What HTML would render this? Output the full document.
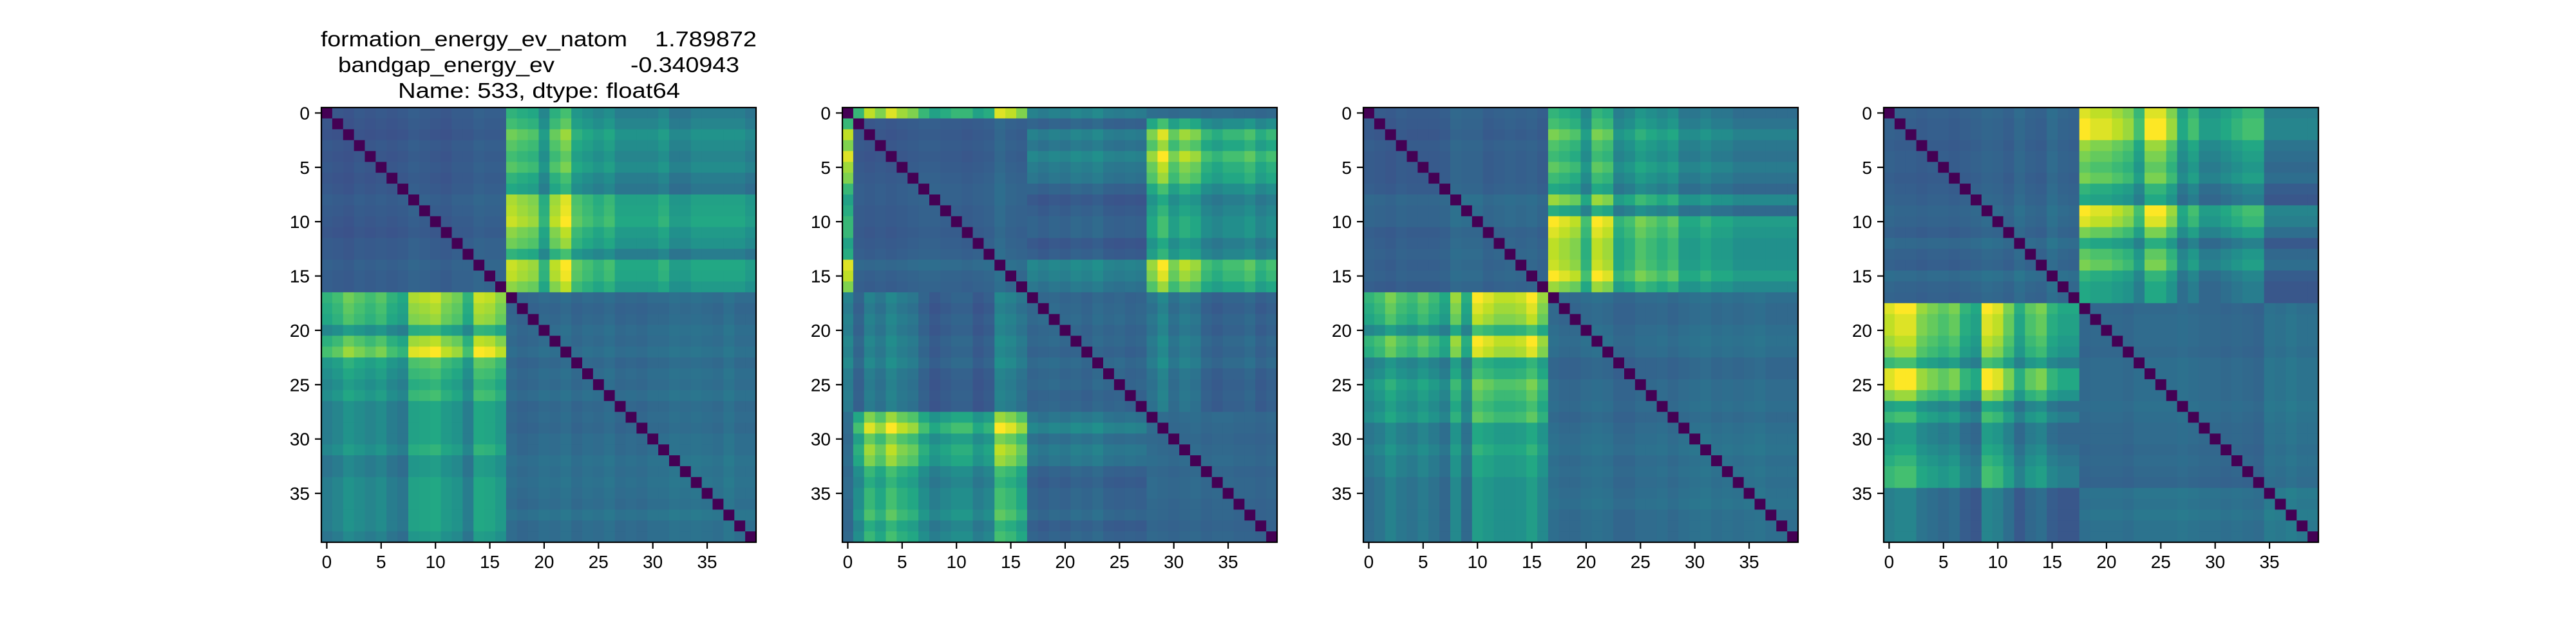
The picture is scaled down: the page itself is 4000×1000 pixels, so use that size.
<!DOCTYPE html>
<html>
<head>
<meta charset="utf-8">
<style>
  html,body{margin:0;padding:0;background:#fff;}
  svg{display:block;}
  text{font-family:"Liberation Sans","DejaVu Sans",sans-serif;fill:#000;}
</style>
</head>
<body>
<svg id="fig" width="4000" height="1000" viewBox="0 0 4000 1000" xmlns="http://www.w3.org/2000/svg">
  <rect x="0" y="0" width="4000" height="1000" fill="#fff"/>
  <g font-size="33">
    <text x="498" y="72" textLength="476" lengthAdjust="spacingAndGlyphs">formation_energy_ev_natom</text>
    <text x="1017" y="72" textLength="158" lengthAdjust="spacingAndGlyphs">1.789872</text>
    <text x="525" y="112" textLength="336" lengthAdjust="spacingAndGlyphs">bandgap_energy_ev</text>
    <text x="979" y="112" textLength="169" lengthAdjust="spacingAndGlyphs">-0.340943</text>
    <text x="618" y="152" textLength="438" lengthAdjust="spacingAndGlyphs">Name: 533, dtype: float64</text>
  </g>
</svg>
<script>
// ---- data (block-structured estimate) ----
const tickLabels = ["0","5","10","15","20","25","30","35"];
const tickValues = [0,5,10,15,20,25,30,35];

const groups1 = [0,0,0,0,0,0,0,0,0,0,0,0,0,0,0,0,0,1,1,1,1,1,1,1,1,1,1,1,1,1,1,1,1,1,1,1,1,1,1,1];
const groups2 = [0,1,1,1,1,1,1,1,1,1,1,1,1,1,1,1,1,2,2,2,2,2,2,2,2,2,2,2,0,0,0,0,0,0,0,0,0,0,0,0];
const groups3 = [0,0,0,0,0,0,0,0,0,0,0,0,0,0,0,0,0,1,1,1,1,1,1,1,1,1,1,1,1,1,1,1,1,1,1,1,1,1,1,1];
const groups4 = [0,0,0,0,0,0,0,0,0,0,0,0,0,0,0,0,0,0,1,1,1,1,1,1,1,1,1,1,1,1,1,1,1,1,1,1,1,1,1,1];

const profile1 = [0.70,0.75,0.85,0.80,0.75,0.80,0.70,0.65,0.95,0.97,1.00,0.90,0.85,0.70,1.00,0.98,0.90,
                  0.92,0.88,0.85,0.65,0.90,1.00,0.75,0.70,0.65,0.70,0.60,0.60,0.60,0.60,0.65,0.55,0.55,0.60,0.60,0.60,0.60,0.60,0.55];
const profile2 = [0.95,0.70,0.95,0.85,1.00,0.90,0.85,0.70,0.60,0.65,0.70,0.70,0.60,0.65,1.00,0.95,0.85,
                  0.75,0.70,0.75,0.72,0.78,0.75,0.80,0.72,0.70,0.72,0.70,0.85,1.00,0.80,0.90,0.85,0.70,0.65,0.70,0.70,0.75,0.65,0.70];
const profile3 = [0.65,0.70,0.80,0.72,0.68,0.75,0.68,0.60,0.85,0.62,1.00,0.95,0.90,0.90,0.92,1.00,0.85,
                  1.00,0.95,0.90,0.70,1.00,0.95,0.65,0.70,0.80,0.75,0.70,0.75,0.60,0.60,0.65,0.60,0.60,0.55,0.55,0.55,0.55,0.55,0.55];
const profile4 = [0.95,1.00,1.00,0.85,0.80,0.75,0.80,0.65,0.60,1.00,0.95,0.80,0.62,0.75,0.80,0.65,0.60,0.60,
                  1.00,0.95,0.95,0.90,0.85,0.70,1.00,1.00,0.85,0.60,0.70,0.55,0.55,0.60,0.65,0.70,0.70,0.45,0.45,0.45,0.45,0.45];

const within1 = [0.28,0.26,0.24,0.28,0.26,0.28,0.26,0.28,0.32,0.30,0.28,0.26,0.30,0.30,0.34,0.32,0.32,
                 0.34,0.30,0.32,0.36,0.34,0.38,0.32,0.36,0.34,0.38,0.32,0.34,0.32,0.36,0.36,0.40,0.38,0.40,0.38,0.36,0.42,0.36,0.36];
const within2 = [0.36,0.28,0.26,0.28,0.26,0.28,0.30,0.32,0.32,0.30,0.30,0.28,0.30,0.32,0.40,0.34,0.32,
                 0.32,0.34,0.36,0.32,0.34,0.30,0.36,0.32,0.34,0.30,0.32,0.36,0.34,0.32,0.34,0.36,0.32,0.34,0.34,0.32,0.32,0.30,0.32];
const within3 = [0.30,0.28,0.26,0.30,0.28,0.28,0.28,0.30,0.38,0.36,0.36,0.30,0.32,0.34,0.32,0.34,0.30,
                 0.36,0.32,0.32,0.36,0.38,0.36,0.30,0.30,0.34,0.34,0.36,0.32,0.36,0.38,0.40,0.36,0.38,0.36,0.38,0.40,0.36,0.36,0.36];
const within4 = [0.32,0.30,0.30,0.28,0.30,0.30,0.28,0.30,0.32,0.36,0.34,0.30,0.38,0.32,0.30,0.40,0.34,0.32,
                 0.32,0.34,0.34,0.34,0.32,0.36,0.36,0.36,0.36,0.38,0.36,0.34,0.34,0.32,0.34,0.32,0.30,0.42,0.40,0.44,0.40,0.40];

const blockFactor1 = [[0,1],[1,0]];
const blockFactor2 = [[0,1,0.62],[1,0,0.62],[0.62,0.62,0]];
const blockFactor3 = [[0,1],[1,0]];
const blockFactor4 = [[0,1],[1,0]];

const panels = [
  {groups:groups1, profile:profile1, within:within1, factor:blockFactor1},
  {groups:groups2, profile:profile2, within:within2, factor:blockFactor2},
  {groups:groups3, profile:profile3, within:within3, factor:blockFactor3},
  {groups:groups4, profile:profile4, within:within4, factor:blockFactor4}
];

// ---- layout ----
const N = 40;
const plotLefts = [499, 1308, 2117, 2925];
const plotTop = 167, plotSize = 675;
const cell = plotSize / N;

const viridis = [
  [0.0,[68,1,84]],[0.1,[72,36,117]],[0.2,[65,68,135]],[0.3,[53,95,141]],[0.4,[42,120,142]],
  [0.5,[33,145,140]],[0.6,[34,168,132]],[0.7,[68,191,112]],[0.8,[122,209,81]],[0.9,[189,223,38]],[1.0,[253,231,37]]
];
function cmap(v){
  v = Math.max(0, Math.min(1, v));
  for (let k=1;k<viridis.length;k++){
    if (v <= viridis[k][0]){
      const a=viridis[k-1], b=viridis[k], t=(v-a[0])/(b[0]-a[0]);
      const c=a[1].map((x,i)=>Math.round(x+(b[1][i]-x)*t));
      return "rgb("+c.join(",")+")";
    }
  }
  return "rgb(253,231,37)";
}
function value(p,i,j){
  if (i===j) return 0;
  const gi=p.groups[i], gj=p.groups[j];
  if (gi===gj) return (p.within[i]+p.within[j])/2;
  return p.profile[i]*p.profile[j]*p.factor[gi][gj];
}

const svg = document.getElementById("fig");
const NS = "http://www.w3.org/2000/svg";
function mk(tag, attrs){
  const e=document.createElementNS(NS,tag);
  for (const k in attrs) e.setAttribute(k, attrs[k]);
  return e;
}

panels.forEach((p, pi) => {
  const x0 = plotLefts[pi];
  const xScale = c => x0 + c*cell;
  const yScale = r => plotTop + r*cell;
  const g = mk("g", {});
  
  
  svg.appendChild(g);
  for (let i=0;i<N;i++){
    for (let j=0;j<N;j++){
      const r = mk("rect", {x:xScale(j).toFixed(2), y:yScale(i).toFixed(2), width:(cell+0.6).toFixed(2), height:(cell+0.6).toFixed(2), fill:cmap(value(p,i,j))});
      
      
      g.appendChild(r);
    }
  }
  const frame = mk("rect", {x:x0, y:plotTop, width:plotSize, height:plotSize, fill:"none", stroke:"#000", "stroke-width":2.2});
  
  
  g.appendChild(frame);

  tickValues.forEach((tv, ti) => {
    const cx = xScale(tv + 0.5), cy = yScale(tv + 0.5);
    const xt = mk("line", {x1:cx, y1:plotTop+plotSize, x2:cx, y2:plotTop+plotSize+10, stroke:"#000", "stroke-width":2.2});
    
    
    g.appendChild(xt);
    const xl = mk("text", {x:cx, y:882, "font-size":28, "text-anchor":"middle"});
    xl.textContent = tickLabels[ti];
    
    
    g.appendChild(xl);
    const yt = mk("line", {x1:x0-10, y1:cy, x2:x0, y2:cy, stroke:"#000", "stroke-width":2.2});
    
    
    g.appendChild(yt);
    const yl = mk("text", {x:x0-18, y:cy+10, "font-size":28, "text-anchor":"end"});
    yl.textContent = tickLabels[ti];
    
    
    g.appendChild(yl);
  });
});
</script>
</body>
</html>
